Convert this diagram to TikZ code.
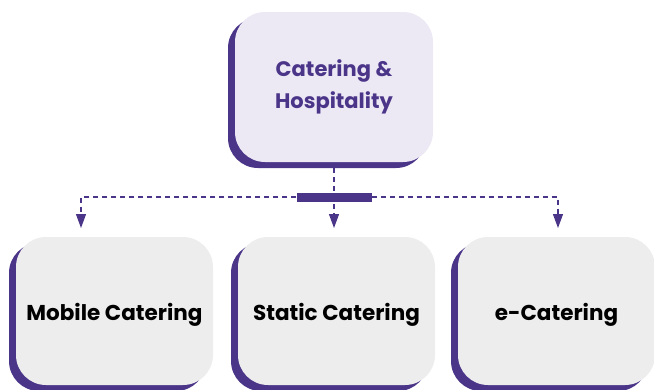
\documentclass[tikz,border=0pt]{standalone}
\usepackage{fontspec}
\setmainfont{Poppins}
\usepackage{tikz}
\usetikzlibrary{arrows.meta,positioning,shadows}
\definecolor{hpurple}{HTML}{4B3589}
\definecolor{boxlilac}{HTML}{ECE8F4}
\definecolor{boxgrey}{HTML}{EDEDED}

\begin{document}
\begin{tikzpicture}[x=1pt,y=-1pt,
  topbox/.style={fill=boxlilac,minimum width=198pt,minimum height=150pt,rounded corners=30pt,align=center,font=\fontsize{21}{32}\selectfont\bfseries,text=hpurple,
    general shadow={fill=hpurple,shadow xshift=-7pt,shadow yshift=-6pt}},
  subbox/.style={fill=boxgrey,minimum width=197pt,minimum height=148pt,rounded corners=30pt,align=center,font=\fontsize{21.5}{24}\selectfont\bfseries,text=black,text height=19pt,text depth=0pt,
    general shadow={fill=hpurple,shadow xshift=-7pt,shadow yshift=-6pt}},
  link/.style={hpurple,line width=1.2pt,dash pattern=on 5pt off 4pt},
  tip/.style={-{Triangle[length=14pt,width=10pt]}}]
\useasboundingbox (0,0) rectangle (654,389);
% ---------- top ----------
\node[topbox] (root) at (334,87) {Catering \&\\Hospitality};
% ---------- bottom row ----------
\node[subbox] (mobile) at (114.5,311) {Mobile Catering};
\node[subbox] (static) at (336.5,311) {Static Catering};
\node[subbox] (ecat) at (556.5,311) {e-Catering};
% ---------- connectors ----------
\coordinate (ma) at (81,228);
\coordinate (sa) at (root.south |- 0,228);
\coordinate (ea) at (558,228);
\node[fill=hpurple,minimum width=75pt,minimum height=9pt,inner sep=0pt] (bar) at (root.south |- 0,197) {};
\draw[link,tip] ([yshift=-6pt]root.south) -- (sa);
\draw[link,tip] (bar.west) -| (ma);
\draw[link,tip] (bar.east) -| (ea);
\node[fill=hpurple,minimum width=75pt,minimum height=9pt,inner sep=0pt] at (bar) {};
\end{tikzpicture}
\end{document}
